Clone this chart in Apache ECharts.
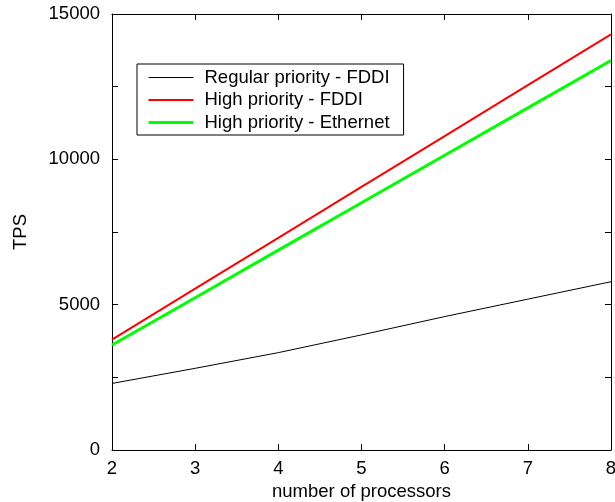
<!DOCTYPE html>
<html>
<head>
<meta charset="utf-8">
<script src="https://cdn.jsdelivr.net/npm/echarts@6/dist/echarts.min.js"></script>
<style>html,body{margin:0;padding:0;background:#fff}#c{width:615px;height:502px}</style>
</head>
<body>
<div id="c"></div>
<script>
var processors = [2, 3, 4, 5, 6, 7, 8];
var regularFDDI = [2290, 2810, 3350, 3960, 4590, 5190, 5790];
var highFDDI = [3800, 5550, 7300, 9050, 10800, 12550, 14300];
var highEthernet = [3610, 5240, 6875, 8505, 10140, 11770, 13400];
var seriesNames = ['Regular priority - FDDI', 'High priority - FDDI', 'High priority - Ethernet'];
var xTitle = 'number of processors';
var yTitle = 'TPS';

function pairs(vals) { return processors.map(function (p, i) { return [p, vals[i]]; }); }

var font = 'Liberation Sans, Arial, Helvetica, sans-serif';
var fs = 18.5;
var chart = echarts.init(document.getElementById('c'), null, { renderer: 'canvas' });
var tick = { show: true, inside: true, length: 6, lineStyle: { color: '#000', width: 1 } };
chart.setOption({
  animation: false,
  backgroundColor: '#fff',
  grid: { left: 112, right: 4, top: 14, bottom: 52, show: false, containLabel: false, outerBoundsMode: 'none' },
  xAxis: [{
    type: 'value', min: 2, max: 8, interval: 1, position: 'bottom',
    name: xTitle, nameLocation: 'middle', nameGap: 26,
    nameTextStyle: { fontFamily: font, fontSize: fs, color: '#000' },
    axisLine: { show: true, onZero: false, lineStyle: { color: '#000', width: 1 } },
    axisTick: tick, splitLine: { show: false },
    axisLabel: { fontFamily: font, fontSize: fs, color: '#000', margin: 9 }
  }, {
    type: 'value', min: 2, max: 8, interval: 1, position: 'top',
    axisLine: { show: true, onZero: false, lineStyle: { color: '#000', width: 1 } },
    axisTick: tick, splitLine: { show: false }, axisLabel: { show: false }
  }],
  yAxis: [{
    type: 'value', min: 0, max: 15000, interval: 2500, position: 'left',
    name: yTitle, nameLocation: 'middle', nameGap: 82, nameRotate: 90,
    nameTextStyle: { fontFamily: font, fontSize: fs, color: '#000' },
    axisLine: { show: true, onZero: false, lineStyle: { color: '#000', width: 1 } },
    axisTick: tick, splitLine: { show: false },
    axisLabel: { fontFamily: font, fontSize: fs, color: '#000', margin: 12,
      formatter: function (v) { return v % 5000 === 0 ? String(v) : ''; } }
  }, {
    type: 'value', min: 0, max: 15000, interval: 2500, position: 'right',
    axisLine: { show: true, onZero: false, lineStyle: { color: '#000', width: 1 } },
    axisTick: tick, splitLine: { show: false }, axisLabel: { show: false }
  }],
  legend: {
    orient: 'vertical', left: 137, top: 64,
    padding: [4, 14, 3, 10],
    itemWidth: 45, itemHeight: 14, itemGap: 3.5,
    borderColor: '#000', borderWidth: 1, borderRadius: 0,
    backgroundColor: '#fff',
    itemStyle: { opacity: 0 },
    lineStyle: { width: 'inherit' },
    textStyle: { fontFamily: font, fontSize: fs, color: '#000', padding: [0, 0, 0, 6] },
    data: seriesNames
  },
  series: [
    { name: seriesNames[0], type: 'line', data: pairs(regularFDDI), symbol: 'none',
      lineStyle: { color: '#000', width: 1 }, itemStyle: { color: '#000' } },
    { name: seriesNames[1], type: 'line', data: pairs(highFDDI), symbol: 'none',
      lineStyle: { color: '#ff0000', width: 2 }, itemStyle: { color: '#ff0000' } },
    { name: seriesNames[2], type: 'line', data: pairs(highEthernet), symbol: 'none',
      lineStyle: { color: '#00ff00', width: 3 }, itemStyle: { color: '#00ff00' } }
  ]
});
</script>
</body>
</html>
